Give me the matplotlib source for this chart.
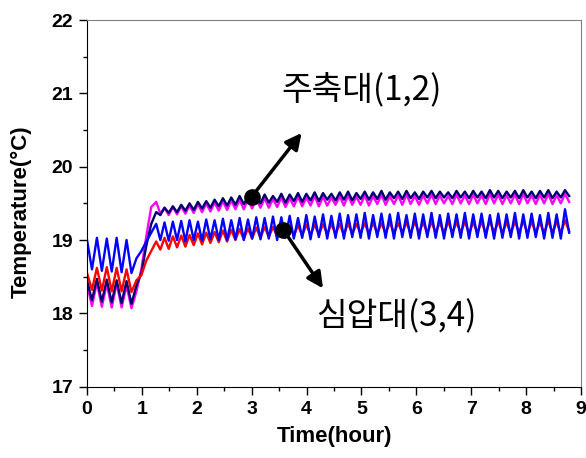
import numpy as np
import matplotlib
matplotlib.use("Agg")
import matplotlib.pyplot as plt
from matplotlib.ticker import MultipleLocator

# sample times (hour), one reading every half cycle
# the cycle is a bit longer before the step (about 0.18 h) than after it (about 0.15 h)
time = np.concatenate([np.arange(14) * 0.09, 1.26 + np.arange(100) * 0.076])

# 주축대 (1,2)
temp1 = [18.45, 18.18, 18.47, 18.16, 18.46, 18.15, 18.45, 18.14, 18.44, 18.13,
         18.38, 18.55, 18.92, 19.22, 19.38, 19.34, 19.44, 19.37, 19.46, 19.38,
         19.48, 19.40, 19.50, 19.41, 19.52, 19.43, 19.53, 19.44, 19.55, 19.46,
         19.57, 19.47, 19.58, 19.48, 19.60, 19.49, 19.59, 19.50, 19.61, 19.50,
         19.62, 19.51, 19.60, 19.52, 19.63, 19.51, 19.62, 19.53, 19.64, 19.52,
         19.63, 19.54, 19.65, 19.53, 19.64, 19.55, 19.63, 19.54, 19.65, 19.55,
         19.66, 19.54, 19.64, 19.56, 19.66, 19.55, 19.65, 19.56, 19.67, 19.55,
         19.65, 19.57, 19.66, 19.56, 19.67, 19.57, 19.65, 19.56, 19.66, 19.58,
         19.67, 19.57, 19.66, 19.58, 19.65, 19.57, 19.67, 19.58, 19.66, 19.57,
         19.67, 19.58, 19.66, 19.57, 19.68, 19.58, 19.67, 19.57, 19.66, 19.58,
         19.67, 19.57, 19.68, 19.58, 19.66, 19.57, 19.67, 19.58, 19.68, 19.57,
         19.66, 19.58, 19.68, 19.60]
temp2 = [18.40, 18.10, 18.42, 18.09, 18.40, 18.08, 18.41, 18.08, 18.38, 18.07,
         18.30, 18.60, 19.05, 19.45, 19.52, 19.36, 19.44, 19.34, 19.45, 19.35,
         19.46, 19.36, 19.47, 19.37, 19.49, 19.38, 19.50, 19.39, 19.51, 19.40,
         19.53, 19.41, 19.54, 19.42, 19.55, 19.42, 19.56, 19.43, 19.56, 19.44,
         19.57, 19.44, 19.56, 19.45, 19.58, 19.45, 19.57, 19.46, 19.59, 19.46,
         19.58, 19.47, 19.60, 19.46, 19.59, 19.47, 19.58, 19.48, 19.60, 19.47,
         19.61, 19.48, 19.59, 19.48, 19.61, 19.47, 19.60, 19.49, 19.62, 19.48,
         19.60, 19.49, 19.61, 19.48, 19.62, 19.49, 19.60, 19.48, 19.61, 19.50,
         19.62, 19.49, 19.61, 19.50, 19.60, 19.49, 19.62, 19.50, 19.61, 19.49,
         19.62, 19.50, 19.61, 19.49, 19.63, 19.50, 19.62, 19.49, 19.61, 19.50,
         19.62, 19.49, 19.63, 19.50, 19.61, 19.49, 19.62, 19.50, 19.63, 19.49,
         19.61, 19.50, 19.63, 19.52]

# 심압대 (3,4)
temp3 = [19.00, 18.60, 19.03, 18.58, 19.02, 18.57, 19.03, 18.56, 19.00, 18.55,
         18.75, 18.85, 18.98, 19.10, 19.22, 19.00, 19.24, 18.99, 19.25, 19.00,
         19.26, 18.98, 19.27, 19.00, 19.25, 18.99, 19.28, 19.01, 19.27, 19.00,
         19.29, 19.00, 19.27, 19.01, 19.30, 19.00, 19.28, 19.02, 19.31, 19.01,
         19.30, 19.02, 19.32, 19.00, 19.31, 19.03, 19.33, 19.02, 19.30, 19.03,
         19.34, 19.01, 19.32, 19.04, 19.35, 19.02, 19.33, 19.03, 19.36, 19.02,
         19.34, 19.04, 19.35, 19.03, 19.37, 19.02, 19.34, 19.04, 19.36, 19.03,
         19.35, 19.02, 19.37, 19.04, 19.34, 19.03, 19.36, 19.02, 19.35, 19.04,
         19.37, 19.03, 19.34, 19.02, 19.36, 19.04, 19.35, 19.03, 19.37, 19.02,
         19.35, 19.04, 19.36, 19.03, 19.34, 19.02, 19.36, 19.03, 19.35, 19.04,
         19.37, 19.02, 19.35, 19.03, 19.36, 19.04, 19.34, 19.02, 19.37, 19.03,
         19.35, 19.02, 19.42, 19.10]
temp4 = [18.55, 18.32, 18.62, 18.31, 18.63, 18.30, 18.62, 18.30, 18.60, 18.29,
         18.45, 18.52, 18.72, 18.85, 18.98, 18.87, 19.03, 18.88, 19.05, 18.90,
         19.06, 18.91, 19.07, 18.93, 19.09, 18.94, 19.10, 18.96, 19.11, 18.97,
         19.13, 18.98, 19.14, 19.00, 19.15, 19.01, 19.16, 19.02, 19.17, 19.03,
         19.18, 19.04, 19.18, 19.05, 19.19, 19.05, 19.20, 19.06, 19.20, 19.06,
         19.21, 19.07, 19.21, 19.07, 19.22, 19.08, 19.22, 19.08, 19.22, 19.07,
         19.23, 19.08, 19.22, 19.09, 19.23, 19.08, 19.24, 19.09, 19.23, 19.09,
         19.24, 19.09, 19.23, 19.10, 19.24, 19.09, 19.25, 19.10, 19.24, 19.09,
         19.25, 19.10, 19.24, 19.09, 19.25, 19.10, 19.24, 19.10, 19.25, 19.09,
         19.24, 19.10, 19.25, 19.09, 19.26, 19.10, 19.25, 19.10, 19.24, 19.09,
         19.25, 19.10, 19.26, 19.09, 19.25, 19.10, 19.24, 19.09, 19.26, 19.10,
         19.25, 19.09, 19.27, 19.12]

label_top = "주축대(1,2)"
label_bottom = "심압대(3,4)"

plt.rcParams["font.family"] = ["Liberation Sans", "DejaVu Sans"]

fig = plt.figure(figsize=(5.86, 4.58), dpi=100)
ax = fig.add_axes([0.1485, 0.1557, 0.843, 0.8006])

ax.plot(time, temp2, color="#ff00ff", lw=1.7)
ax.plot(time, temp1, color="#000070", lw=1.7)
ax.plot(time, temp4, color="#ff0000", lw=1.7)
ax.plot(time, temp3, color="#0000ff", lw=1.7)

ax.set_xlim(0, 9)
ax.set_ylim(17, 22)
ax.xaxis.set_major_locator(MultipleLocator(1))
ax.xaxis.set_minor_locator(MultipleLocator(0.5))
ax.yaxis.set_major_locator(MultipleLocator(1))
ax.yaxis.set_minor_locator(MultipleLocator(0.5))
ax.tick_params(which="major", direction="out", length=6, width=1, labelsize=14, pad=4)
ax.tick_params(which="minor", direction="out", length=3, width=1)
for lab in ax.get_xticklabels() + ax.get_yticklabels():
    lab.set_fontweight("bold")
for s in ["top", "right"]:
    ax.spines[s].set_color("#808080")

ax.set_xlabel("Time(hour)", fontsize=16, fontweight="bold")
ax.set_ylabel("Temperature(°C)", fontsize=16, fontweight="bold")
ax.xaxis.set_label_coords(0.5, -0.108)
ax.yaxis.set_label_coords(-0.112, 0.476)

# callouts
arrow = dict(arrowstyle="-|>", lw=2.5, color="black", mutation_scale=24, shrinkA=0, shrinkB=0)
ax.annotate("", xy=(3.91, 20.46), xytext=(3.0, 19.59), arrowprops=arrow)
ax.annotate("", xy=(4.30, 18.34), xytext=(3.576, 19.14), arrowprops=arrow)
ax.plot([3.0, 3.576], [19.59, 19.14], "o", color="black", ms=11, zorder=5)

ax.text(5.0, 21.03, label_top, fontsize=24, ha="center", va="center",
        family=["Noto Sans CJK KR", "DejaVu Sans"])
ax.text(5.64, 17.95, label_bottom, fontsize=24, ha="center", va="center",
        family=["Noto Sans CJK KR", "DejaVu Sans"])

fig.savefig("out.png", dpi=100)
